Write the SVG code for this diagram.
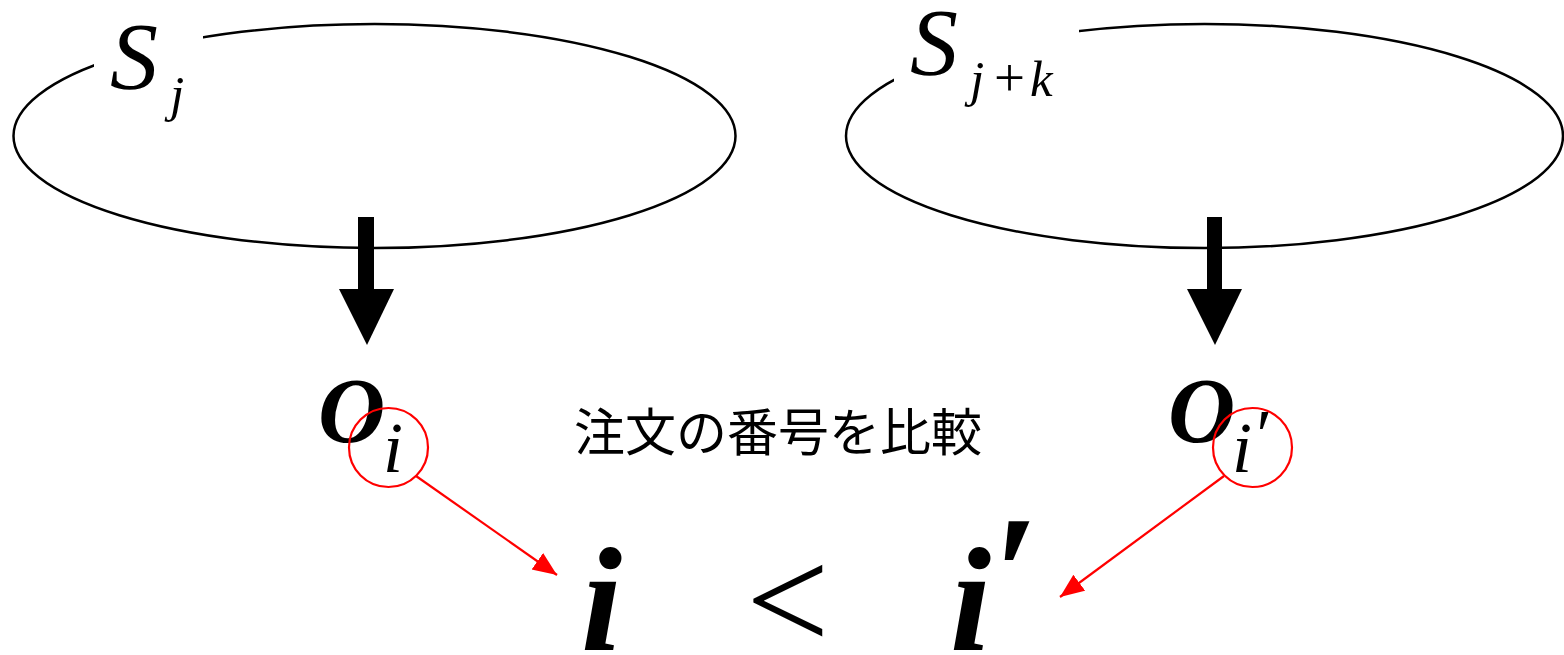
<svg xmlns="http://www.w3.org/2000/svg" width="1564" height="655" viewBox="0 0 1564 655">
<style>
.ell{fill:none;stroke:#000;stroke-width:2.5}
.mask{fill:#fff;stroke:none}
.it{font-family:"Liberation Serif","Times New Roman",serif;font-style:italic;fill:#000}
.up{font-family:"Liberation Serif","Times New Roman",serif;fill:#000}
.bi{font-family:"Liberation Serif","Times New Roman",serif;font-style:italic;font-weight:bold;fill:#000}
.jp{font-family:"Noto Sans CJK JP","Noto Sans CJK SC",sans-serif;fill:#000}
.rc{fill:none;stroke:#f00;stroke-width:2.2}
.rl{stroke:#f00;stroke-width:2.2;fill:none}
.ba{fill:#000;stroke:none}
</style>
<defs>
<marker id="redhead" markerUnits="userSpaceOnUse" markerWidth="26" markerHeight="22" refX="24" refY="10" orient="auto">
<path d="M0,0 L24,10 L0,20 Z" fill="#f00"/>
</marker>
</defs>
<rect width="1564" height="655" fill="#fff"/>

<g id="node-Sj">
<ellipse class="ell" cx="374.5" cy="136" rx="361" ry="112"/>
<rect class="mask" x="94" y="15" width="109" height="105"/>
<text class="it" x="110" y="89" font-size="96">S</text>
<text class="it" x="170" y="111" font-size="51">j</text>
</g>

<g id="node-Sjk">
<ellipse class="ell" cx="1204.5" cy="136" rx="358.5" ry="112"/>
<rect class="mask" x="894" y="0" width="185" height="120"/>
<text class="it" x="910" y="75" font-size="96">S</text>
<text class="it" x="970" y="96" font-size="51">j</text>
<text class="up" x="994" y="96" font-size="55">+</text>
<text class="it" x="1030" y="96" font-size="51">k</text>
</g>

<g id="node-Oi">
<text class="bi" x="318" y="442" font-size="93">O</text>
<text class="it" x="383" y="472" font-size="72">i</text>
<circle class="rc" cx="388.5" cy="447.5" r="39.5"/>
</g>

<g id="node-Oi2">
<text class="bi" x="1168" y="442" font-size="93">O</text>
<text class="it" x="1232" y="472" font-size="72">i<tspan dy="-13">′</tspan></text>
<circle class="rc" cx="1252.5" cy="447.5" r="39.5"/>
</g>

<g id="label-compare">
<text class="jp" x="778" y="451" font-size="51" text-anchor="middle">注文の番号を比較</text>
</g>

<g id="node-relation">
<text class="bi" x="581" y="650" font-size="148">i</text>
<text class="up" x="746" y="650" font-size="148">&lt;</text>
<text class="bi" x="950" y="650" font-size="148">i<tspan dy="-20" font-size="165">′</tspan></text>
</g>

<g id="connectors">
<rect class="ba" x="358" y="217" width="16" height="74"/>
<polygon class="ba" points="339,289 394,289 367,345"/>
<rect class="ba" x="1207" y="217" width="15" height="74"/>
<polygon class="ba" points="1187,289 1242,289 1215,345"/>
<line class="rl" x1="416" y1="476" x2="557" y2="575" marker-end="url(#redhead)"/>
<line class="rl" x1="1224" y1="476" x2="1060" y2="597" marker-end="url(#redhead)"/>
</g>
</svg>
